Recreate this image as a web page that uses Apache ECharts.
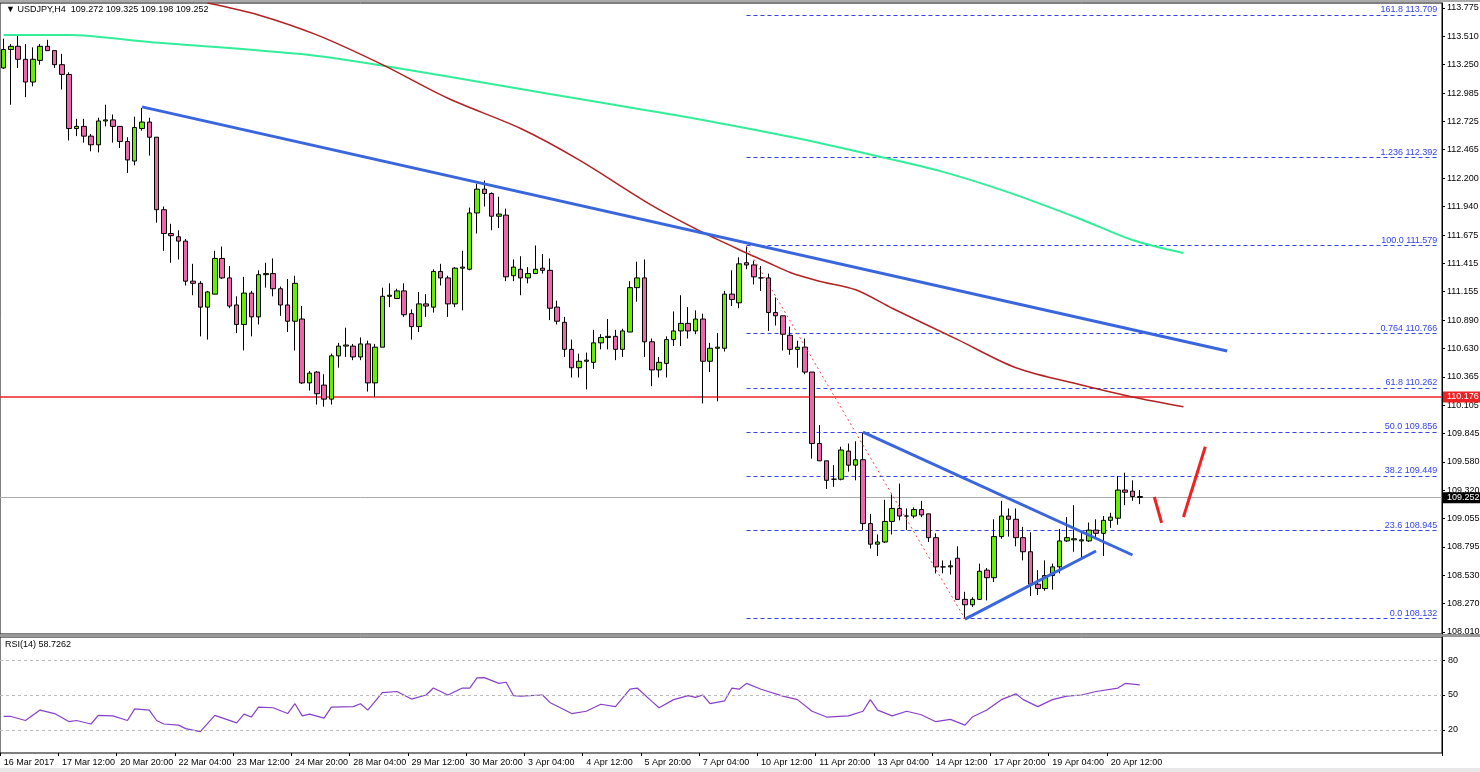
<!DOCTYPE html>
<html><head><meta charset="utf-8">
<script src="https://cdn.jsdelivr.net/npm/echarts@6/dist/echarts.min.js"></script>
<style>html,body{margin:0;padding:0;background:#fff}#c{width:1480px;height:772px}</style>
</head><body><div id="c"></div>
<script>
const opens=[113.22,113.39,113.42,113.30,113.09,113.29,113.42,113.38,113.25,113.16,112.66,112.68,112.59,112.51,112.73,112.74,112.68,112.54,112.36,112.66,112.72,112.58,111.91,111.69,111.66,111.62,111.25,111.23,111.01,111.13,111.46,111.28,111.03,110.85,111.14,110.92,111.31,111.32,111.18,111.03,110.88,110.90,110.31,110.41,110.29,110.16,110.56,110.65,110.65,110.55,110.67,110.31,110.64,111.11,111.09,111.16,110.95,110.83,111.04,111.01,111.34,111.28,111.04,111.37,111.36,111.88,112.10,112.06,111.85,111.86,111.30,111.36,111.28,111.32,111.37,111.35,111.01,110.87,110.62,110.45,110.51,110.50,110.68,110.73,110.74,110.62,110.78,111.19,111.28,110.69,110.43,110.49,110.71,110.79,110.86,110.79,110.90,110.51,110.63,110.63,111.13,111.05,111.42,111.40,111.28,111.28,110.96,110.93,110.75,110.62,110.64,110.41,109.75,109.59,109.42,109.42,109.68,109.55,109.60,109.01,108.82,108.84,109.03,109.15,109.08,109.08,109.14,109.10,108.88,108.61,108.61,108.69,108.31,108.26,108.31,108.58,108.51,108.89,109.08,109.05,108.88,108.75,108.45,108.41,108.53,108.61,108.85,108.86,108.85,108.85,108.95,108.92,109.04,109.06,109.32,109.31,109.26];
const closes=[113.39,113.42,113.30,113.09,113.30,113.42,113.38,113.25,113.16,112.66,112.68,112.59,112.51,112.73,112.74,112.68,112.54,112.37,112.67,112.72,112.58,111.91,111.69,111.67,111.62,111.25,111.23,111.01,111.15,111.46,111.28,111.02,110.85,111.14,110.92,111.31,111.32,111.18,111.03,110.88,111.23,110.31,110.40,110.21,110.16,110.56,110.65,110.66,110.55,110.67,110.31,110.64,111.11,111.12,111.16,110.94,110.83,111.04,111.02,111.34,111.28,111.04,111.37,111.38,111.88,112.10,112.06,111.85,111.87,111.29,111.38,111.28,111.32,111.36,111.35,111.00,110.88,110.62,110.45,110.51,110.52,110.68,110.73,110.74,110.62,110.79,111.19,111.28,110.69,110.43,110.50,110.71,110.79,110.86,110.79,110.90,110.51,110.63,110.64,111.13,111.08,111.41,111.40,111.29,111.28,110.96,110.93,110.76,110.62,110.64,110.41,109.75,109.59,109.41,109.42,109.69,109.55,109.60,109.01,108.82,108.84,109.03,109.15,109.08,109.08,109.14,109.09,108.88,108.61,108.61,108.62,108.31,108.26,108.31,108.57,108.51,108.89,109.08,109.05,108.88,108.75,108.45,108.41,108.53,108.61,108.85,108.88,108.87,108.86,108.95,108.92,109.04,109.07,109.32,109.30,109.26,109.252];
const lows=[113.21,112.88,113.22,112.95,113.05,113.25,113.38,113.22,113.02,112.55,112.59,112.53,112.45,112.44,112.68,112.53,112.48,112.25,112.32,112.64,112.41,111.79,111.53,111.42,111.45,111.21,111.12,110.74,110.71,111.13,111.27,111.00,110.77,110.61,110.74,110.85,111.19,111.11,110.93,110.78,110.61,110.30,110.24,110.11,110.09,110.11,110.45,110.55,110.52,110.52,110.23,110.18,110.64,111.01,111.09,110.92,110.71,110.78,110.92,110.96,111.21,110.92,111.01,110.98,111.35,111.69,111.94,111.72,111.74,111.25,111.25,111.12,111.23,111.32,111.32,110.89,110.85,110.55,110.36,110.36,110.25,110.44,110.62,110.62,110.52,110.55,110.78,111.06,110.55,110.28,110.36,110.36,110.65,110.65,110.72,110.76,110.12,110.41,110.14,110.60,111.02,111.00,111.36,111.22,111.16,110.79,110.84,110.61,110.57,110.45,110.39,109.61,109.59,109.33,109.35,109.41,109.49,109.41,108.95,108.78,108.71,108.83,108.91,109.04,108.95,109.06,109.07,108.84,108.55,108.55,108.54,108.31,108.13,108.24,108.31,108.30,108.47,108.87,108.89,108.80,108.67,108.34,108.35,108.39,108.40,108.55,108.84,108.75,108.68,108.84,108.87,108.71,108.97,109.00,109.18,109.22,109.19];
const highs=[113.49,113.44,113.52,113.44,113.41,113.44,113.48,113.38,113.35,113.18,112.75,112.75,112.61,112.76,112.88,112.79,112.68,112.58,112.77,112.85,112.76,112.58,111.94,111.78,111.72,111.64,111.41,111.25,111.16,111.53,111.57,111.39,111.11,111.29,111.16,111.35,111.42,111.46,111.20,111.27,111.30,111.02,110.42,110.42,110.39,110.58,110.68,110.82,110.67,110.73,110.70,110.67,111.19,111.23,111.18,111.23,110.99,111.15,111.13,111.36,111.41,111.30,111.38,111.53,111.93,112.15,112.18,112.07,112.03,111.92,111.45,111.48,111.38,111.58,111.50,111.46,111.07,110.92,110.71,110.58,110.59,110.80,110.76,110.90,110.80,110.81,111.25,111.43,111.45,110.72,110.55,110.74,110.97,111.12,111.01,110.98,110.95,110.68,110.77,111.16,111.35,111.47,111.57,111.44,111.39,111.32,111.10,110.93,110.83,110.70,110.72,110.41,109.92,109.59,109.55,109.72,109.75,109.77,109.85,109.10,108.91,109.23,109.28,109.38,109.15,109.16,109.22,109.10,108.92,108.67,108.67,108.80,108.38,108.33,108.64,108.60,109.05,109.22,109.15,109.15,108.98,108.93,108.58,108.67,108.64,108.96,109.07,109.18,108.94,109.02,109.05,109.08,109.11,109.45,109.48,109.41,109.32];
const dateLabels=["16 Mar 2017","17 Mar 12:00","20 Mar 20:00","22 Mar 04:00","23 Mar 12:00","24 Mar 20:00","28 Mar 04:00","29 Mar 12:00","30 Mar 20:00","3 Apr 04:00","4 Apr 12:00","5 Apr 20:00","7 Apr 04:00","10 Apr 12:00","11 Apr 20:00","13 Apr 04:00","14 Apr 12:00","17 Apr 20:00","19 Apr 04:00","20 Apr 12:00"];
const priceTicks=[113.775,113.510,113.250,112.985,112.725,112.465,112.200,111.940,111.675,111.415,111.155,110.890,110.630,110.365,110.105,109.845,109.580,109.320,109.055,108.795,108.530,108.270,108.010];
const fibLevels=[113.709,112.392,111.579,110.766,110.262,109.856,109.449,108.945,108.132];
const fibNames=["161.8","1.236","100.0","0.764","61.8","50.0","38.2","23.6","0.0"];
const ma200Idx=[0,9,20,42,54,68,82,96,109,119,129,138,148,155,162];
const ma200Val=[113.525,113.525,113.46,113.34,113.22,113.06,112.90,112.74,112.57,112.42,112.26,112.07,111.82,111.63,111.51];
const ma100Idx=[28,35,43,52,61,71,79,89,96,102,105,108,112,117,122,131,139,148,155,162];
const ma100Val=[113.82,113.71,113.525,113.25,112.94,112.66,112.37,111.95,111.70,111.51,111.42,111.33,111.25,111.17,111.00,110.71,110.45,110.29,110.18,110.09];
const rsiIdx=[0,1,3,5,7,9,10,12,13,15,17,18,20,21,22,24,25,27,29,32,33,34,35,37,39,40,41,42,44,45,48,49,50,52,54,56,58,59,61,63,64,65,66,68,69,70,71,74,75,78,80,82,84,86,87,89,90,92,94,95,96,97,99,100,101,102,104,107,109,111,113,116,118,119,120,122,124,126,128,130,132,133,135,137,139,140,142,144,146,148,150,153,154,156];
const rsiVal=[31.5,31.5,28,37,34,27,28,25,32.4,32,28,38,37,28,25,24,21,18.5,32.4,26,33.5,31,39.6,39,34,42.5,32,33.5,30,39.6,40,42.5,37,52,53,46.5,50,56,50,56,56,64.7,65,60,61,49.5,49,50,43.6,34,36,42,40,55,56,44.5,39,46,49.5,48,50,42.5,45,56,55,60,55,49,46,36,31,32,36,46,37,32,36,33,27,29,24,31,37,46,51,46,40,46,49,50,53,56,60,58.7];
const trendLines=[[[19,112.86],[168,110.605]],[[118,109.856],[155,108.72]],[[132,108.128],[150,108.757]]];
const arrowLines=[[[157.6,109.256],[159,109.016]],[[161.5,109.071],[164.6,109.72]]];
const fibDiag=[[102,111.57],[132,108.13]];
const NCAT=198;
const cats=[];for(let i=0;i<NCAT;i++)cats.push(i%8===0&&dateLabels[i/8]?dateLabels[i/8]:'');
const candles=opens.map((o,i)=>[o,closes[i],lows[i],highs[i]]);
const ma200=ma200Idx.map((x,i)=>[x,ma200Val[i]]);
const ma100=ma100Idx.map((x,i)=>[x,ma100Val[i]]);
const rsi=rsiIdx.map((x,i)=>[x,rsiVal[i]]);
const F='"Liberation Sans", Arial, sans-serif';
const W=1442;
const lineSeries=(data,color,width,type,smooth)=>({type:'line',xAxisIndex:0,yAxisIndex:0,data,symbol:'none',silent:true,smooth:smooth||false,lineStyle:{color,width,type:type||'solid'},z:5});
const fibMark=fibLevels.map((v,i)=>[{coord:[102,v],label:{formatter:fibNames[i]+' '+v.toFixed(3)}},{coord:[NCAT-1,v]}]);
const chart=echarts.init(document.getElementById('c'));
chart.setOption({
animation:false,
textStyle:{fontFamily:F},
grid:[{left:0,top:3,width:W,height:631,show:true,borderColor:'#000',borderWidth:1,outerBoundsMode:'none',containLabel:false},
      {left:0,top:637,width:W,height:116,show:true,borderColor:'#000',borderWidth:1,outerBoundsMode:'none',containLabel:false}],
xAxis:[{type:'category',gridIndex:0,data:cats,boundaryGap:true,axisLine:{show:false},axisTick:{show:false},axisLabel:{show:false}},
       {type:'category',gridIndex:1,data:cats,boundaryGap:true,axisLine:{show:false},
        axisTick:{show:true,interval:(i,v)=>v!=='',length:3,lineStyle:{color:'#000'}},
        axisLabel:{interval:(i,v)=>v!=='',align:'left',fontSize:9,color:'#000',margin:5,fontFamily:F,hideOverlap:false}}],
yAxis:[{type:'value',gridIndex:0,position:'right',min:107.99,max:113.82,splitLine:{show:false},
        axisLine:{show:true,lineStyle:{color:'#000'}},axisTick:{show:true,length:3,customValues:priceTicks},
        axisLabel:{customValues:priceTicks,formatter:v=>v.toFixed(3),fontSize:9,color:'#000',margin:5}},
       {type:'value',gridIndex:1,position:'right',min:0,max:100,
        splitLine:{show:false},axisLine:{show:true,lineStyle:{color:'#000'}},axisTick:{show:true,length:3,customValues:[20,50,80]},
        axisLabel:{customValues:[20,50,80],fontSize:9,color:'#000',margin:6}}],
series:[
 {type:'candlestick',xAxisIndex:0,yAxisIndex:0,data:candles,barWidth:5,z:4,
  itemStyle:{color:'#66ee00',color0:'#ee66aa',borderColor:'#000',borderColor0:'#000',borderWidth:1},
  markLine:{silent:true,symbol:'none',z:3,lineStyle:{color:'#3344ee',type:[4,3],width:1},
    label:{position:'insideEndTop',color:'#3344ee',fontSize:9,distance:1},data:fibMark}},
 lineSeries(ma200,'#33ee99',2,null,0.3),
 lineSeries(ma100,'#b22222',1.5,null,0.3),
 ...trendLines.map(t=>lineSeries(t,'#3a66dd',3)),
 ...arrowLines.map(t=>lineSeries(t,'#ee2222',3)),
 lineSeries(fibDiag,'#ee4444',1,[2,3]),
 {type:'line',xAxisIndex:0,yAxisIndex:0,data:[],markLine:{silent:true,symbol:'none',z:2,data:[
   {yAxis:110.176,lineStyle:{color:'#ee2222',width:1.5,type:'solid'},label:{position:'end',formatter:'110.176',backgroundColor:'#ee2222',color:'#fff',fontSize:9,padding:[1,4,1,4],distance:1}},
   {yAxis:109.252,lineStyle:{color:'#aaaaaa',width:1,type:'solid'},label:{position:'end',formatter:'109.252',backgroundColor:'#000',color:'#fff',fontSize:9,padding:[1,4,1,4],distance:1}}]}},
 {type:'line',xAxisIndex:1,yAxisIndex:1,data:rsi,symbol:'none',lineStyle:{color:'#8a3fc8',width:1.2},
  markLine:{silent:true,symbol:'none',label:{show:false},lineStyle:{color:'#bbbbbb',type:[3,3],width:1},data:[{yAxis:20},{yAxis:50},{yAxis:80}]}}
],
graphic:[
 {type:'rect',shape:{x:0,y:0,width:1480,height:2},style:{fill:'#aaaaaa'}},
 {type:'rect',shape:{x:0,y:634,width:1480,height:3},style:{fill:'#999999'}},
 {type:'rect',shape:{x:0,y:768,width:1480,height:4},style:{fill:'#e8e8e8'}},
 {type:'text',left:6,top:5,style:{text:'▼ USDJPY,H4  109.272 109.325 109.198 109.252',fontSize:9,fill:'#000',fontFamily:F}},
 {type:'text',left:5,top:640,style:{text:'RSI(14) 58.7262',fontSize:9,fill:'#000',fontFamily:F}}
]
});
</script></body></html>
